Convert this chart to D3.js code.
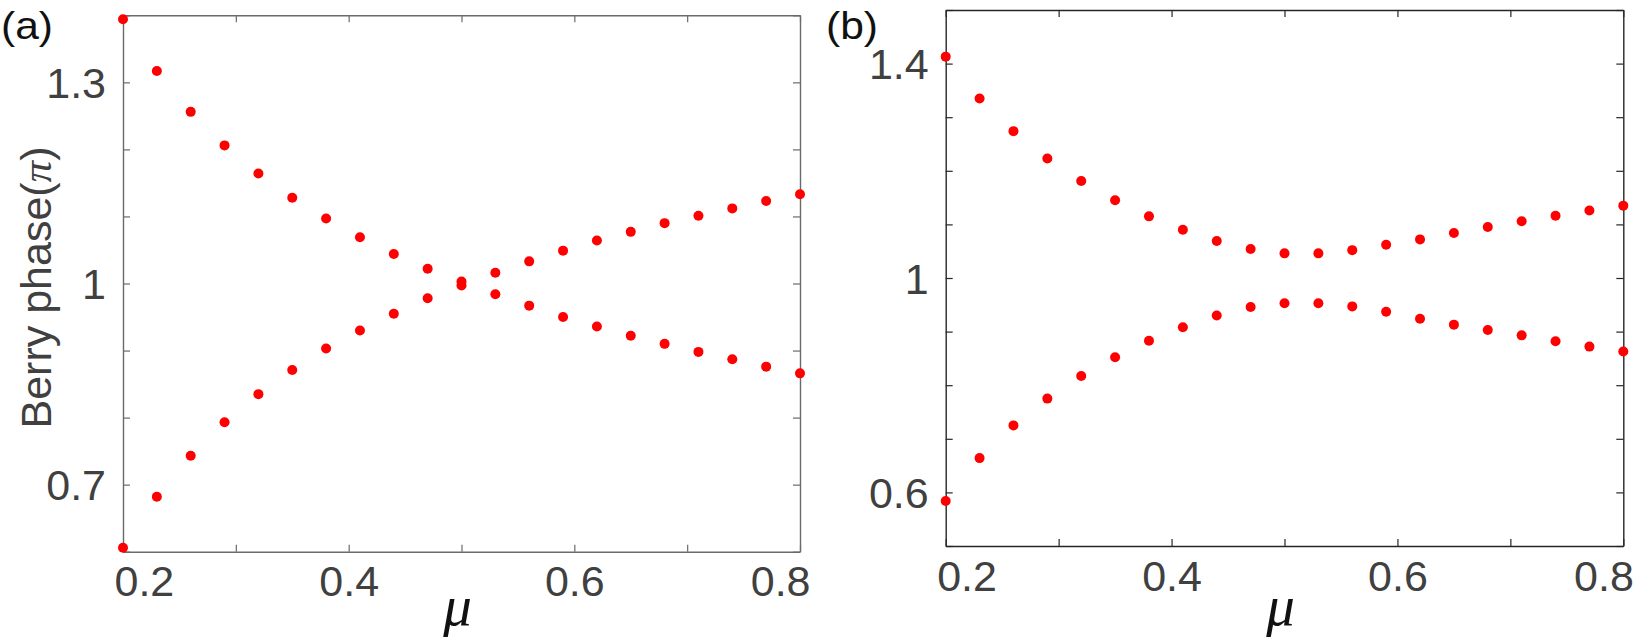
<!DOCTYPE html>
<html>
<head>
<meta charset="utf-8">
<script src="https://cdn.jsdelivr.net/npm/d3@7"></script>
<style>
  body { margin: 0; background: #fff; }
  svg text { font-family: "Liberation Sans", Arial, sans-serif; fill: #404040; }
</style>
</head>
<body>
<svg id="chart" width="1634" height="640"></svg>
<script>
// mu values (same for both panels)
const mu = [0.20, 0.23, 0.26, 0.29, 0.32, 0.35, 0.38, 0.41, 0.44, 0.47, 0.50,
            0.53, 0.56, 0.59, 0.62, 0.65, 0.68, 0.71, 0.74, 0.77, 0.80];

// panel (a): two branches crossing at mu = 0.5
const phaseA1 = [1.394, 1.317, 1.256, 1.206, 1.164, 1.128, 1.097, 1.069, 1.044, 1.022, 1.003,
                 0.984, 0.967, 0.950, 0.936, 0.922, 0.910, 0.898, 0.887, 0.876, 0.866];
const phaseA2 = [0.606, 0.682, 0.743, 0.793, 0.835, 0.871, 0.903, 0.930, 0.955, 0.978, 0.997,
                 1.016, 1.033, 1.049, 1.064, 1.077, 1.090, 1.101, 1.112, 1.123, 1.133];

// panel (b): gapped branches
const phaseB1 = [1.413, 1.335, 1.274, 1.223, 1.181, 1.145, 1.115, 1.090, 1.069, 1.054, 1.046,
                 1.046, 1.052, 1.062, 1.072, 1.084, 1.095, 1.106, 1.116, 1.126, 1.135];
const phaseB2 = [0.584, 0.664, 0.725, 0.775, 0.817, 0.852, 0.883, 0.908, 0.930, 0.946, 0.953,
                 0.953, 0.947, 0.937, 0.924, 0.913, 0.903, 0.893, 0.882, 0.872, 0.863];

const xTicks = [0.2, 0.3, 0.4, 0.5, 0.6, 0.7, 0.8];
const xLabels = [0.2, 0.4, 0.6, 0.8];
const yTicksA = [0.6, 0.7, 0.8, 0.9, 1.0, 1.1, 1.2, 1.3, 1.4];
const yLabelsA = [0.7, 1.0, 1.3];
const yTicksB = [0.5, 0.6, 0.7, 0.8, 0.9, 1.0, 1.1, 1.2, 1.3, 1.4, 1.5];
const yLabelsB = [0.6, 1.0, 1.4];

const svg = d3.select("#chart");

function fmt(list) {
  return d => list.some(v => Math.abs(v - d) < 1e-9) ? String(+d.toFixed(1)) : "";
}

function drawPanel(p) {
  const x = d3.scaleLinear().domain([0.2, 0.8]).range([p.left, p.right]);
  const y = d3.scaleLinear().domain(p.yDomain).range([p.bottom, p.top]);
  const g = svg.append("g");

  // frame with inward ticks on all sides
  const axes = [
    [d3.axisBottom(x).tickValues(xTicks).tickFormat(fmt(xLabels)), `translate(0,${p.bottom})`, "b"],
    [d3.axisTop(x).tickValues(xTicks).tickFormat(""), `translate(0,${p.top})`, "t"],
    [d3.axisLeft(y).tickValues(p.yTicks).tickFormat(fmt(p.yLabels)), `translate(${p.left},0)`, "l"],
    [d3.axisRight(y).tickValues(p.yTicks).tickFormat(""), `translate(${p.right},0)`, "r"]
  ];
  axes.forEach(([ax, tr, side]) => {
    const a = g.append("g").attr("transform", tr)
      .call(ax.tickSizeInner(-7).tickSizeOuter(0).tickPadding(side === "b" ? 14 : 17));
    a.select(".domain").attr("stroke", p.axisColor).attr("stroke-width", 1.4);
    a.selectAll(".tick line").attr("stroke", p.axisColor).attr("stroke-width", 1.2);
    a.selectAll(".tick text").attr("font-size", 43).attr("fill", "#454545")
      .style("font-family", '"Liberation Sans", Arial, sans-serif');
    if (side === "l") a.selectAll(".tick text").attr("dy", "0.35em");
    if (side === "b") {
      const t = a.selectAll(".tick text").nodes();
      d3.select(t[0]).attr("text-anchor", "start").attr("x", -9);
      d3.select(t[t.length - 1]).attr("text-anchor", "end").attr("x", 10);
    }
  });

  // points
  [p.s1, p.s2].forEach(series => {
    g.append("g").selectAll("circle")
      .data(series.map((v, i) => [mu[i], v]))
      .join("circle")
      .attr("cx", d => x(d[0]))
      .attr("cy", d => y(d[1]))
      .attr("r", 5)
      .attr("fill", "#ff0000");
  });

  // x label
  g.append("text")
    .attr("x", (p.left + p.right) / 2 - 4)
    .attr("y", 625)
    .attr("text-anchor", "middle")
    .attr("font-size", 57)
    .attr("font-style", "italic")
    .style("font-family", '"Liberation Serif", "DejaVu Serif", serif')
    .style("fill", "#111")
    .text("μ");

  // panel tag
  g.append("text")
    .attr("x", p.tagX)
    .attr("y", 39)
    .attr("font-size", 39)
    .attr("textLength", 52)
    .attr("lengthAdjust", "spacingAndGlyphs")
    .style("fill", "#111")
    .text(p.tag);

  if (p.yTitle) {
    const t = g.append("text")
      .attr("transform", `translate(51,${(p.top + p.bottom) / 2 + 4}) rotate(-90)`)
      .attr("text-anchor", "middle")
      .attr("font-size", 43)
      .attr("textLength", 282)
      .attr("lengthAdjust", "spacingAndGlyphs");
    t.append("tspan").text("Berry phase(");
    t.append("tspan").attr("font-style", "italic")
      .style("font-family", '"Liberation Serif", "DejaVu Serif", serif').text("π");
    t.append("tspan").text(")");
  }
}

drawPanel({
  left: 123, right: 800, top: 15.3, bottom: 551.7,
  yDomain: [0.6, 1.4], yTicks: yTicksA, yLabels: yLabelsA,
  s1: phaseA1, s2: phaseA2, axisColor: "#6a6a6a",
  tag: "(a)", tagX: 1, yTitle: true
});

drawPanel({
  left: 945.7, right: 1623.3, top: 10, bottom: 546,
  yDomain: [0.5, 1.5], yTicks: yTicksB, yLabels: yLabelsB,
  s1: phaseB1, s2: phaseB2, axisColor: "#262626",
  tag: "(b)", tagX: 826, yTitle: false
});
</script>
</body>
</html>
